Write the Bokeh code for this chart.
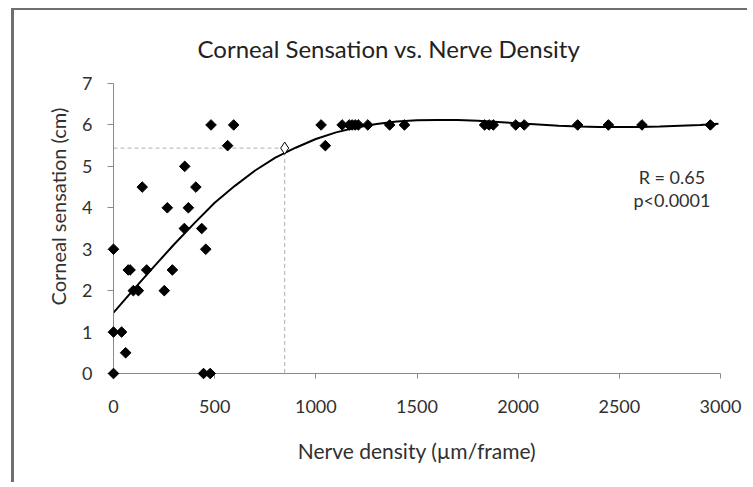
from bokeh.plotting import figure
from bokeh.models import Range1d, Title, Label, FixedTicker
from bokeh.embed import file_html
from bokeh.resources import INLINE

# ---- data ----
density = [0, 0, 40, 0, 60, 73, 82, 98, 123, 142, 164, 251, 266, 291, 352, 350, 370,
           407, 436, 456, 445, 478, 482, 564, 594, 1026, 1047, 1130, 1165, 1180, 1195,
           1210, 1257, 1365, 1438, 1834, 1856, 1877, 1988, 2030, 2294, 2446, 2612, 2950]
sensation = [0, 1, 1, 3, 0.5, 2.5, 2.5, 2, 2, 4.5, 2.5, 2, 4, 2.5, 5, 3.5, 4,
             4.5, 3.5, 3, 0, 0, 6, 5.5, 6, 6, 5.5, 6, 6, 6, 6,
             6, 6, 6, 6, 6, 6, 6, 6, 6, 6, 6, 6, 6]
marked_density = [846]
marked_sensation = [5.44]
curve_density = [0, 100, 200, 300, 400, 500, 600, 700, 800, 900, 1000, 1100, 1200, 1300,
                 1400, 1500, 1600, 1700, 1800, 1900, 2000, 2100, 2200, 2300, 2400, 2500,
                 2600, 2700, 2800, 2900, 2990]
curve_sensation = [1.47, 2.03, 2.58, 3.12, 3.63, 4.12, 4.53, 4.9, 5.21, 5.45, 5.66, 5.82,
                   5.94, 6.02, 6.08, 6.11, 6.12, 6.12, 6.1, 6.07, 6.04, 6.01, 5.98, 5.96,
                   5.95, 5.95, 5.95, 5.96, 5.98, 6.0, 6.03]
x_ticks = [0, 500, 1000, 1500, 2000, 2500, 3000]
y_ticks = [0, 1, 2, 3, 4, 5, 6, 7]
title_text = "Corneal Sensation vs. Nerve Density"
stats_text = "R = 0.65\np<0.0001"

FONT = "Lato"
GRAY = "#8a8a8a"
TXT = "#303030"

p = figure(width=736, height=474, output_backend="svg", toolbar_location=None,
           x_range=Range1d(0, 3000), y_range=Range1d(0, 7),
           min_border_left=99, min_border_right=30, min_border_top=72, min_border_bottom=111)
p.styles = {"border-left": "3px solid #6f6f6f", "border-top": "2px solid #6f6f6f",
            "margin-left": "11px", "margin-top": "8px"}

p.grid.visible = False
p.outline_line_color = None

for ax, ticks in ((p.xaxis, x_ticks), (p.yaxis, y_ticks)):
    ax.ticker = FixedTicker(ticks=ticks)
    ax.axis_line_color = GRAY
    ax.major_tick_line_color = GRAY
    ax.minor_tick_line_color = None
    ax.major_tick_in = 0
    ax.major_label_text_font = FONT
    ax.major_label_text_font_size = "18px"
    ax.major_label_text_color = TXT
p.xaxis.major_tick_out = 5
p.yaxis.major_tick_out = 6
p.xaxis.major_label_standoff = 21
p.yaxis.major_label_standoff = 15

p.xaxis.axis_label = "Nerve density (\u00b5m/frame)"
p.xaxis.axis_label_text_font = FONT
p.xaxis.axis_label_text_font_size = "21px"
p.xaxis.axis_label_text_font_style = "normal"
p.xaxis.axis_label_text_color = TXT
p.xaxis.axis_label_standoff = 22

p.title.text = title_text
p.title.text_font = FONT
p.title.text_font_size = "24px"
p.title.text_font_style = "normal"
p.title.text_color = "#222222"
p.title.align = "left"
p.title.offset = 84
p.title.standoff = 42

ytitle = Title(text="Corneal sensation (cm)", text_font=FONT, text_font_size="20px",
               text_font_style="normal", text_color=TXT, align="left", offset=68, standoff=20)
p.add_layout(ytitle, "left")

# guide lines to the marked point
p.line([0, marked_density[0], marked_density[0]],
       [marked_sensation[0], marked_sensation[0], 0],
       line_color="#b0b0b0", line_dash="4 3", line_width=1)

p.line(curve_density, curve_sensation, line_color="black", line_width=2)
p.scatter(density, sensation, marker="square", angle=0.785398, size=7.5,
          fill_color="black", line_color="black", level="overlay")
p.scatter(marked_density, marked_sensation, marker="diamond", size=12,
          fill_color="white", line_color="black", line_width=1, level="overlay")

p.add_layout(Label(x=2760, y=4.47, text=stats_text, text_font=FONT, text_font_size="18px",
                   text_color=TXT, text_align="center", text_baseline="middle",
                   text_line_height=1.05))

open("out.html", "w").write(file_html(p, INLINE))
